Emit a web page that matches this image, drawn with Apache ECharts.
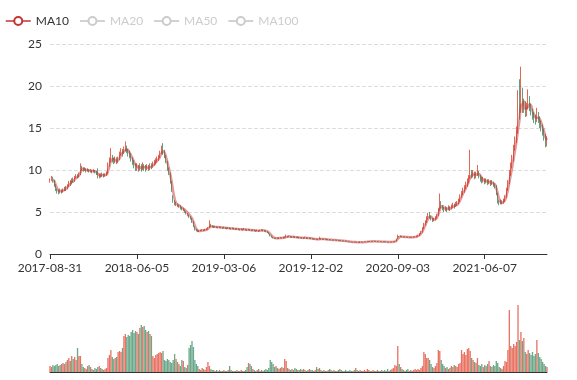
<!DOCTYPE html>
<html><head><meta charset="utf-8">
<script src="https://cdn.jsdelivr.net/npm/echarts@6/dist/echarts.min.js"></script>
<style>html,body{margin:0;padding:0;background:#fff}#main{width:577px;height:380px}</style>
</head><body><div id="main"></div>
<script>
// one category per ~3 trading days
const dates = [
'2017-08-31','2017-09-05','2017-09-08','2017-09-13','2017-09-18','2017-09-21','2017-09-26','2017-09-29','2017-10-11','2017-10-16',
'2017-10-19','2017-10-24','2017-10-27','2017-11-01','2017-11-06','2017-11-09','2017-11-14','2017-11-17','2017-11-22','2017-11-27',
'2017-11-30','2017-12-05','2017-12-08','2017-12-13','2017-12-18','2017-12-21','2017-12-26','2017-12-29','2018-01-04','2018-01-09',
'2018-01-12','2018-01-17','2018-01-22','2018-01-25','2018-01-30','2018-02-02','2018-02-07','2018-02-12','2018-02-22','2018-02-27',
'2018-03-02','2018-03-07','2018-03-12','2018-03-15','2018-03-20','2018-03-23','2018-03-28','2018-04-02','2018-04-09','2018-04-12',
'2018-04-17','2018-04-20','2018-04-25','2018-05-02','2018-05-07','2018-05-11','2018-05-16','2018-05-21','2018-05-24','2018-05-30',
'2018-06-05','2018-06-08','2018-06-13','2018-06-19','2018-06-22','2018-06-27','2018-07-02','2018-07-05','2018-07-10','2018-07-13',
'2018-07-18','2018-07-23','2018-07-26','2018-07-31','2018-08-03','2018-08-08','2018-08-13','2018-08-16','2018-08-21','2018-08-24',
'2018-08-29','2018-09-03','2018-09-06','2018-09-11','2018-09-14','2018-09-19','2018-09-25','2018-09-28','2018-10-10','2018-10-15',
'2018-10-18','2018-10-23','2018-10-26','2018-10-31','2018-11-05','2018-11-08','2018-11-13','2018-11-16','2018-11-21','2018-11-26',
'2018-11-29','2018-12-04','2018-12-07','2018-12-12','2018-12-17','2018-12-20','2018-12-25','2018-12-28','2019-01-04','2019-01-09',
'2019-01-14','2019-01-17','2019-01-22','2019-01-25','2019-01-30','2019-02-01','2019-02-13','2019-02-19','2019-02-22','2019-02-28',
'2019-03-06','2019-03-11','2019-03-14','2019-03-19','2019-03-22','2019-03-27','2019-04-01','2019-04-04','2019-04-10','2019-04-15',
'2019-04-18','2019-04-23','2019-04-26','2019-05-06','2019-05-09','2019-05-14','2019-05-17','2019-05-22','2019-05-27','2019-05-30',
'2019-06-04','2019-06-10','2019-06-13','2019-06-18','2019-06-21','2019-06-26','2019-07-01','2019-07-04','2019-07-09','2019-07-12',
'2019-07-17','2019-07-22','2019-07-25','2019-07-30','2019-08-02','2019-08-07','2019-08-12','2019-08-15','2019-08-20','2019-08-23',
'2019-08-28','2019-09-02','2019-09-05','2019-09-10','2019-09-16','2019-09-19','2019-09-24','2019-09-27','2019-10-09','2019-10-14',
'2019-10-17','2019-10-22','2019-10-25','2019-10-30','2019-11-04','2019-11-07','2019-11-12','2019-11-15','2019-11-21','2019-11-27',
'2019-12-02','2019-12-05','2019-12-10','2019-12-13','2019-12-18','2019-12-23','2019-12-26','2019-12-31','2020-01-06','2020-01-09',
'2020-01-14','2020-01-17','2020-01-22','2020-02-04','2020-02-07','2020-02-12','2020-02-17','2020-02-20','2020-02-25','2020-02-28',
'2020-03-04','2020-03-09','2020-03-12','2020-03-17','2020-03-20','2020-03-25','2020-03-30','2020-04-02','2020-04-08','2020-04-13',
'2020-04-16','2020-04-21','2020-04-24','2020-04-29','2020-05-08','2020-05-13','2020-05-18','2020-05-21','2020-05-26','2020-05-29',
'2020-06-03','2020-06-08','2020-06-11','2020-06-16','2020-06-19','2020-06-24','2020-07-01','2020-07-06','2020-07-09','2020-07-14',
'2020-07-17','2020-07-22','2020-07-27','2020-07-30','2020-08-04','2020-08-07','2020-08-12','2020-08-17','2020-08-21','2020-08-27',
'2020-09-03','2020-09-08','2020-09-11','2020-09-16','2020-09-21','2020-09-24','2020-09-29','2020-10-12','2020-10-15','2020-10-20',
'2020-10-23','2020-10-28','2020-11-02','2020-11-05','2020-11-10','2020-11-13','2020-11-18','2020-11-23','2020-11-26','2020-12-01',
'2020-12-04','2020-12-09','2020-12-14','2020-12-17','2020-12-22','2020-12-25','2020-12-30','2021-01-05','2021-01-08','2021-01-13',
'2021-01-18','2021-01-21','2021-01-26','2021-01-29','2021-02-03','2021-02-08','2021-02-18','2021-02-23','2021-02-26','2021-03-03',
'2021-03-08','2021-03-11','2021-03-16','2021-03-19','2021-03-24','2021-03-29','2021-04-01','2021-04-07','2021-04-12','2021-04-15',
'2021-04-20','2021-04-23','2021-04-28','2021-05-06','2021-05-11','2021-05-14','2021-05-19','2021-05-24','2021-05-27','2021-06-02',
'2021-06-07','2021-06-10','2021-06-16','2021-06-21','2021-06-24','2021-06-29','2021-07-02','2021-07-07','2021-07-12','2021-07-15',
'2021-07-20','2021-07-23','2021-07-28','2021-08-02','2021-08-05','2021-08-10','2021-08-13','2021-08-18','2021-08-23','2021-08-26',
'2021-08-31','2021-09-03','2021-09-08','2021-09-13','2021-09-16','2021-09-23','2021-09-28','2021-10-11','2021-10-14','2021-10-19',
'2021-10-22','2021-10-27','2021-11-01','2021-11-04','2021-11-09','2021-11-12','2021-11-17','2021-11-22','2021-11-25','2021-11-30',
'2021-12-03','2021-12-08','2021-12-13','2021-12-16'
];

// [open, close, lowest, highest]
const candles = [
[8.6,8.8,8.5,9.0],[8.8,9.1,8.7,9.3],[9.1,8.7,8.5,9.2],[8.7,8.2,8.0,8.8],[8.2,7.7,7.5,8.3],[7.7,7.5,7.2,7.8],[7.5,7.4,7.1,7.7],[7.4,7.6,7.2,7.8],[7.6,7.4,7.2,7.7],[7.4,7.6,7.3,7.8],
[7.6,7.9,7.5,8.0],[7.9,7.8,7.5,8.1],[7.8,8.1,7.7,8.3],[8.1,8.5,8.0,8.7],[8.5,8.4,8.1,8.8],[8.4,8.8,8.3,9.0],[8.8,8.7,8.5,9.1],[8.7,9.1,8.6,9.3],[9.1,9.3,9.0,9.5],[9.3,9.2,9.0,9.5],
[9.2,9.5,9.1,9.7],[9.5,10.4,9.4,10.8],[10.4,10.1,9.9,10.5],[10.1,10.0,9.8,10.3],[10.0,10.1,9.9,10.3],[10.1,9.9,9.7,10.2],[9.9,10.0,9.8,10.2],[10.0,9.9,9.7,10.1],[9.8,9.9,9.7,10.1],[9.9,9.8,9.6,10.0],
[9.8,9.9,9.7,10.1],[9.9,9.8,9.6,10.0],[9.8,9.6,9.4,9.9],[9.6,9.2,9.0,10.2],[9.2,9.4,9.0,9.6],[9.4,9.3,9.1,9.6],[9.3,9.5,9.2,9.7],[9.5,9.3,9.1,9.6],[9.3,9.4,9.2,9.6],[9.4,9.6,9.3,9.8],
[9.6,10.6,9.5,10.9],[10.6,11.0,10.4,11.5],[11.0,11.6,10.9,12.6],[11.6,11.2,10.9,11.8],[11.2,11.0,10.7,11.5],[11.0,11.3,10.8,11.6],[11.3,10.9,10.7,11.5],[10.9,11.3,10.8,11.6],[11.3,11.9,11.2,12.2],[11.9,12.2,11.7,12.6],
[12.2,12.0,11.6,12.5],[12.0,12.4,11.9,12.8],[12.4,12.7,12.2,13.4],[12.7,12.3,12.0,12.9],[12.3,12.0,11.6,12.5],[12.0,11.8,11.4,12.3],[11.8,11.3,11.0,12.0],[11.3,11.0,10.6,11.5],[11.0,10.6,10.2,11.2],[10.6,10.3,9.9,10.8],
[10.3,10.5,9.9,10.8],[10.5,10.1,9.8,10.6],[10.1,10.4,9.9,10.8],[10.4,10.2,9.8,10.7],[10.2,10.5,10.0,10.9],[10.5,10.3,9.9,10.7],[10.3,10.2,9.8,10.6],[10.2,10.4,10.0,10.7],[10.4,10.2,9.9,10.6],[10.2,10.5,10.0,10.8],
[10.5,10.4,10.1,10.8],[10.4,10.7,10.3,11.0],[10.7,10.9,10.5,11.2],[10.9,11.1,10.7,11.4],[11.1,11.3,10.9,11.6],[11.3,11.5,11.1,11.8],[11.5,12.0,11.4,12.3],[12.0,12.5,11.9,12.9],[12.5,12.2,11.8,13.2],[12.2,11.6,11.4,12.4],
[11.6,11.0,10.8,11.8],[11.0,10.2,9.9,11.1],[10.2,9.6,9.4,10.3],[9.6,8.6,8.4,9.7],[8.6,7.5,7.4,8.7],[6.8,6.3,6.1,7.0],[6.3,6.0,5.8,6.4],[5.8,5.9,5.7,6.2],[5.9,5.8,5.6,6.0],[5.6,5.7,5.5,5.9],
[5.7,5.5,5.3,5.8],[5.5,5.4,5.2,5.6],[5.2,5.3,5.1,5.5],[5.3,5.1,4.9,5.3],[5.1,4.9,4.7,5.1],[4.6,4.7,4.5,4.9],[4.7,4.5,4.3,4.7],[4.5,4.3,4.1,4.5],[4.3,3.9,3.7,4.3],[3.9,3.3,3.2,3.9],
[3.3,2.9,2.8,3.3],[2.9,2.8,2.7,3.0],[2.8,2.7,2.6,2.9],[2.7,2.75,2.6,2.85],[2.75,2.8,2.7,2.9],[2.8,2.85,2.75,2.95],[2.85,2.8,2.7,2.9],[2.8,2.9,2.75,3.0],[2.9,2.95,2.85,3.05],[2.95,3.1,2.9,3.2],
[3.1,3.4,3.1,4.0],[3.4,3.3,3.2,3.6],[3.3,3.25,3.15,3.4],[3.25,3.2,3.1,3.35],[3.2,3.25,3.15,3.35],[3.25,3.2,3.1,3.3],[3.2,3.15,3.05,3.25],[3.15,3.2,3.1,3.3],[3.2,3.15,3.05,3.25],[3.15,3.1,3.0,3.2],
[3.1,3.15,3.05,3.25],[3.15,3.1,3.0,3.2],[3.1,3.05,2.95,3.15],[3.05,3.1,3.0,3.2],[3.1,3.05,2.95,3.15],[3.05,3.0,2.9,3.1],[3.0,3.05,2.95,3.15],[3.05,3.0,2.9,3.1],[3.0,2.95,2.85,3.05],[2.95,3.0,2.9,3.1],
[3.0,2.95,2.85,3.05],[2.95,2.9,2.8,3.0],[2.9,2.95,2.85,3.05],[2.95,2.9,2.8,3.0],[2.9,2.95,2.85,3.1],[2.95,2.9,2.8,3.0],[2.9,2.85,2.75,2.95],[2.85,2.9,2.8,3.0],[2.9,2.85,2.75,2.95],[2.85,2.8,2.7,2.9],
[2.8,2.85,2.75,2.95],[2.85,2.8,2.7,2.9],[2.8,2.75,2.65,2.85],[2.75,2.8,2.7,2.9],[2.8,2.75,2.65,2.85],[2.75,2.8,2.7,2.9],[2.8,2.85,2.75,2.95],[2.85,2.8,2.7,2.9],[2.8,2.75,2.65,2.85],[2.75,2.7,2.6,2.8],
[2.7,2.6,2.5,2.7],[2.6,2.4,2.35,2.6],[2.4,2.2,2.1,2.4],[2.2,2.0,1.95,2.2],[2.0,1.9,1.85,2.05],[1.9,1.85,1.8,1.95],[1.85,1.9,1.8,1.95],[1.9,1.85,1.8,1.95],[1.85,1.9,1.8,2.0],[1.9,1.95,1.85,2.0],
[1.95,1.9,1.85,2.0],[1.9,1.95,1.85,2.05],[1.95,2.0,1.9,2.1],[2.0,2.1,1.95,2.3],[2.1,2.05,1.95,2.15],[2.05,2.1,2.0,2.2],[2.1,2.05,1.95,2.15],[2.05,2.0,1.9,2.1],[2.0,2.05,1.95,2.15],[2.05,2.0,1.9,2.1],
[2.0,1.95,1.9,2.05],[1.95,2.0,1.9,2.1],[2.0,1.95,1.85,2.05],[1.95,1.9,1.85,2.0],[1.9,1.95,1.85,2.0],[1.95,1.9,1.8,2.0],[1.9,1.95,1.85,2.05],[1.95,1.9,1.8,2.0],[1.9,1.85,1.8,1.95],[1.85,1.9,1.8,1.95],
[1.9,1.85,1.75,1.95],[1.85,1.8,1.75,1.9],[1.8,1.75,1.7,1.85],[1.75,1.8,1.7,1.85],[1.8,1.75,1.7,1.85],[1.75,1.7,1.65,1.8],[1.7,1.85,1.7,2.05],[1.85,1.8,1.7,1.9],[1.8,1.75,1.7,1.85],[1.75,1.8,1.7,1.85],
[1.8,1.75,1.7,1.85],[1.75,1.7,1.65,1.8],[1.7,1.72,1.65,1.78],[1.72,1.7,1.65,1.78],[1.7,1.68,1.62,1.75],[1.68,1.65,1.6,1.72],[1.65,1.68,1.6,1.75],[1.68,1.65,1.6,1.72],[1.65,1.62,1.57,1.7],[1.62,1.6,1.55,1.67],
[1.6,1.62,1.55,1.68],[1.62,1.58,1.52,1.65],[1.58,1.55,1.5,1.62],[1.55,1.57,1.5,1.62],[1.57,1.53,1.48,1.6],[1.53,1.5,1.45,1.57],[1.5,1.47,1.42,1.53],[1.47,1.45,1.4,1.5],[1.45,1.42,1.37,1.48],[1.42,1.43,1.38,1.48],
[1.43,1.4,1.35,1.46],[1.4,1.42,1.36,1.47],[1.42,1.4,1.35,1.45],[1.4,1.38,1.33,1.44],[1.38,1.4,1.32,1.5],[1.4,1.42,1.37,1.47],[1.42,1.4,1.35,1.45],[1.4,1.43,1.38,1.48],[1.43,1.45,1.4,1.5],[1.45,1.47,1.42,1.52],
[1.47,1.5,1.44,1.55],[1.5,1.48,1.43,1.53],[1.48,1.5,1.44,1.55],[1.5,1.52,1.46,1.6],[1.52,1.5,1.45,1.55],[1.5,1.48,1.43,1.53],[1.48,1.5,1.44,1.55],[1.5,1.48,1.42,1.52],[1.48,1.46,1.41,1.5],[1.46,1.45,1.4,1.5],
[1.45,1.47,1.41,1.52],[1.47,1.45,1.4,1.5],[1.45,1.44,1.39,1.49],[1.44,1.42,1.37,1.47],[1.42,1.44,1.38,1.49],[1.44,1.42,1.37,1.47],[1.42,1.45,1.39,1.5],[1.45,1.47,1.42,1.52],[1.47,1.5,1.44,1.55],[1.5,1.75,1.48,1.8],
[1.8,2.1,1.78,2.3],[2.1,2.05,1.98,2.15],[2.05,2.1,2.0,2.2],[2.1,2.05,1.98,2.12],[2.05,2.0,1.95,2.1],[2.0,2.05,1.95,2.1],[2.05,2.0,1.95,2.08],[2.0,1.98,1.92,2.05],[1.98,2.0,1.93,2.05],[2.0,1.97,1.92,2.03],
[1.97,2.0,1.93,2.05],[2.0,2.02,1.95,2.08],[2.02,2.05,1.98,2.12],[2.05,2.1,2.0,2.2],[2.1,2.2,2.05,2.3],[2.2,2.4,2.15,2.5],[2.4,2.6,2.35,2.75],[2.6,3.0,2.55,3.2],[3.0,3.5,2.95,3.7],[3.5,3.8,3.4,4.0],
[3.8,4.2,3.7,4.5],[4.2,4.6,4.1,4.9],[4.6,4.5,4.2,5.0],[4.5,4.2,4.0,4.6],[4.2,4.0,3.8,4.3],[4.0,4.1,3.9,4.3],[4.1,4.3,4.0,4.5],[4.3,4.6,4.2,4.8],[4.6,5.2,4.5,5.5],[5.2,6.0,5.1,7.2],
[6.0,5.7,5.4,6.3],[5.7,5.4,5.2,5.8],[5.4,5.3,5.0,5.6],[5.3,5.5,5.1,5.7],[5.5,5.3,5.0,5.6],[5.3,5.5,5.2,5.8],[5.5,5.4,5.1,5.7],[5.4,5.6,5.3,5.9],[5.6,5.8,5.5,6.1],[5.8,5.7,5.4,6.0],
[5.7,5.9,5.6,6.2],[5.9,6.0,5.7,6.3],[6.0,6.3,5.9,6.6],[6.3,6.8,6.2,7.1],[6.8,7.2,6.7,7.5],[7.2,7.5,7.0,7.9],[7.5,7.8,7.3,8.2],[7.8,8.2,7.7,8.6],[8.2,8.6,8.0,9.0],[8.6,9.0,8.4,9.4],
[9.0,9.6,8.9,12.4],[9.6,9.4,9.0,10.0],[9.4,9.6,9.1,10.0],[9.6,9.2,8.9,9.8],[9.2,9.5,9.0,9.8],[9.5,9.8,9.3,10.6],[9.8,9.3,9.0,9.9],[9.3,9.0,8.6,9.4],[9.0,8.7,8.4,9.2],[8.7,8.9,8.5,9.2],
[8.9,8.6,8.3,9.0],[8.6,8.7,8.4,9.0],[8.7,8.5,8.2,8.9],[8.5,8.6,8.3,8.9],[8.6,8.4,8.1,8.8],[8.4,8.5,8.2,8.8],[8.5,8.3,8.0,8.6],[8.3,8.1,7.8,8.4],[8.1,7.2,7.0,8.2],[7.2,6.3,6.0,7.3],
[6.3,6.0,5.8,6.4],[6.0,6.2,5.9,6.5],[6.2,6.1,5.9,6.4],[6.1,6.3,6.0,6.6],[6.3,6.8,6.2,7.0],[6.8,7.6,6.7,7.9],[7.6,8.4,7.5,8.8],[8.4,9.5,8.3,10.0],[9.5,10.4,9.3,10.9],[10.4,11.2,10.2,11.8],
[11.2,12.6,11.0,13.0],[12.6,13.4,12.3,14.0],[13.4,14.5,13.2,15.2],[14.5,16.5,14.3,19.5],[19.0,16.8,16.0,20.8],[17.0,19.5,16.8,22.3],[19.5,17.2,16.8,19.8],[17.2,17.8,16.8,18.5],[17.8,16.8,16.3,18.2],[16.8,17.5,16.4,18.0],
[17.5,18.4,17.2,19.6],[18.4,17.6,17.0,18.8],[17.6,17.0,16.5,17.9],[17.0,16.6,16.0,17.3],[16.6,16.2,15.6,16.9],[16.2,16.0,15.4,16.6],[16.0,16.5,15.7,17.4],[16.5,16.2,15.6,16.9],[16.2,15.5,15.0,16.4],[15.5,15.2,14.6,15.9],
[15.2,14.6,14.1,15.4],[14.6,14.0,13.5,14.9],[14.0,13.1,12.7,14.3],[13.1,13.6,12.8,14.0]
];

const volumes = [
6,5,7,6,7,8,6,7,8,9,8,10,
12,14,11,16,13,15,12,24,16,
16,8,5,
4,3,6,7,5,3,2,4,3,5,6,4,3,2,3,4,
14,17,22,15,13,14,15,20,21,20,
24,36,38,35,37,36,40,
42,39,41,40,38,44,
47,45,46,
42,40,41,38,36,
16,14,17,
18,19,20,19,21,
12,11,13,12,10,
9,12,18,13,10,8,
6,12,11,
5,4,7,
24,27,31,25,
12,8,6,
3,2,4,3,2,5,10,6,3,2,2,1,2,1,2,
1,1,2,1,1,2,6,2,1,1,1,2,1,1,2,1,1,2,
5,9,8,6,
3,2,1,2,3,1,2,1,2,3,2,
4,12,10,8,
5,6,4,3,4,5,4,
13,11,
4,3,2,3,2,4,3,2,2,3,2,3,2,1,2,3,2,2,1,2,
5,3,4,
2,1,2,1,1,2,3,2,1,2,1,1,2,3,2,1,1,2,1,1,2,1,1,2,4,2,1,2,1,1,2,1,3,2,1,1,2,1,1,2,1,1,2,1,2,1,3,1,2,3,4,
7,6,26,8,5,
3,2,1,2,3,1,2,1,2,3,2,3,2,4,6,
20,18,14,
14,12,8,5,4,6,9,
22,21,12,
8,6,4,5,3,4,6,5,7,6,5,8,9,
22,18,20,17,23,24,21,
14,12,10,9,14,
7,6,8,5,7,6,8,11,6,5,7,
6,11,9,5,4,3,6,
11,10,22,
62,26,24,28,
26,30,
67,
32,40,31,
34,20,18,22,19,17,20,16,18,32,19,15,13,10,8,6,5
];

const maNames = ['MA10', 'MA20', 'MA50', 'MA100'];
// each category spans ~3 trading days, so windows are given in categories
const maWindows = [3, 7, 17, 33];
const maColors = ['#c23531', '#2f4554', '#61a0a8', '#d48265'];

const upColor = '#e0412e';
const downColor = '#3a8a62';
const fontFamily = 'Lato, sans-serif';

function calcMA(n) {
  const out = [];
  for (let i = 0; i < candles.length; i++) {
    if (i < n - 1) { out.push('-'); continue; }
    let s = 0;
    for (let j = 0; j < n; j++) s += candles[i - j][1];
    out.push(+(s / n).toFixed(3));
  }
  return out;
}

const volData = volumes.map((v, i) => ({
  value: v,
  itemStyle: { color: candles[i][1] >= candles[i][0] ? upColor : downColor }
}));

const chart = echarts.init(document.getElementById('main'), null, { renderer: 'canvas' });
const maSeries = maNames.map((name, k) => ({
  name: name,
  type: 'line',
  data: calcMA(maWindows[k]),
  smooth: true,
  showSymbol: false,
  symbol: 'emptyCircle',
  color: maColors[k],
  lineStyle: { width: 2.5, opacity: 0.5 },
  xAxisIndex: 0, yAxisIndex: 0,
  z: 3
}));

chart.setOption({
  animation: false,
  textStyle: { fontFamily: fontFamily },
  legend: {
    data: maNames,
    left: 0, top: 10,
    itemGap: 10,
    itemWidth: 25, itemHeight: 10,
    inactiveColor: '#ccc',
    itemStyle: { borderWidth: 1.5 },
    lineStyle: { width: 1.5, opacity: 1 },
    textStyle: { color: '#333', fontSize: 12, fontFamily: fontFamily },
    selected: { 'MA20': false, 'MA50': false, 'MA100': false }
  },
  grid: [
    { left: 50, right: 30, top: 44, height: 210 },
    { left: 50, right: 30, top: 300, height: 72 }
  ],
  xAxis: [
    {
      type: 'category', data: dates, boundaryGap: false, gridIndex: 0,
      axisLine: { lineStyle: { color: '#333' } },
      axisTick: { interval: 59, lineStyle: { color: '#333' } },
      axisLabel: { interval: 59, color: '#333', fontSize: 12, fontFamily: fontFamily },
      splitLine: { show: false }
    },
    {
      type: 'category', data: dates, boundaryGap: false, gridIndex: 1,
      axisLine: { lineStyle: { color: '#333' } },
      axisTick: { show: false },
      axisLabel: { show: false },
      splitLine: { show: false }
    }
  ],
  yAxis: [
    {
      type: 'value', gridIndex: 0, min: 0, max: 25, interval: 5,
      axisLine: { show: false }, axisTick: { show: false },
      axisLabel: { color: '#333', fontSize: 12, fontFamily: fontFamily },
      splitLine: { lineStyle: { type: 'dashed', color: '#ddd' } }
    },
    {
      type: 'value', gridIndex: 1, min: 0, max: 72,
      axisLine: { show: false }, axisTick: { show: false },
      axisLabel: { show: false }, splitLine: { show: false }
    }
  ],
  series: [
    {
      name: 'K', type: 'candlestick', data: candles,
      xAxisIndex: 0, yAxisIndex: 0,
      itemStyle: {
        color: upColor, color0: downColor,
        borderColor: upColor, borderColor0: downColor,
        opacity: 0.8
      }
    }
  ].concat(maSeries).concat([
    {
      name: 'Volume', type: 'bar', data: volData,
      xAxisIndex: 1, yAxisIndex: 1,
      barCategoryGap: '10%',
      itemStyle: { opacity: 0.75 }
    }
  ])
});
</script>
</body></html>
